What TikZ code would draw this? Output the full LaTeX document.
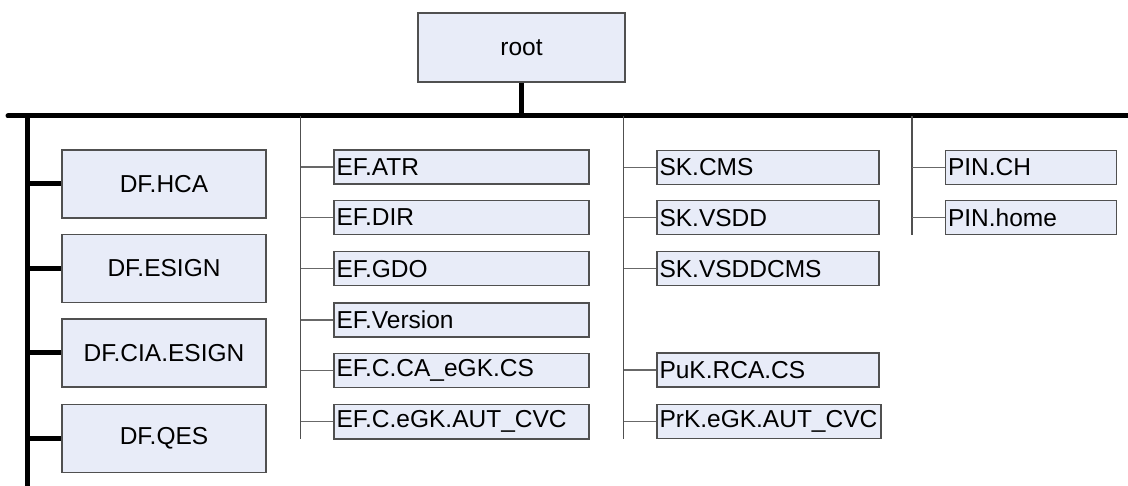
\documentclass[tikz,border=0pt]{standalone}
\usepackage{fontspec}
\setmainfont{Liberation Sans}
\definecolor{boxfill}{HTML}{E8ECF8}
\definecolor{boxline}{HTML}{505050}
\definecolor{trunkline}{HTML}{505050}
\definecolor{thinline}{HTML}{686868}
\begin{document}
\begin{tikzpicture}[x=1pt,y=-1pt,
  box/.style={draw=boxline, fill=boxfill, line width=1.4pt, inner sep=0pt,
    font=\fontsize{24.5}{28}\selectfont},
  centerbox/.style={box, align=center},
  leaf/.style={box, inner xsep=2.5pt, align=left, minimum height=34pt},
  efbox/.style={leaf, text width=250pt},
  skbox/.style={leaf, text width=217pt},
  prkbox/.style={leaf, text width=219pt},
  pinbox/.style={leaf, text width=166pt},
  bar/.style={line width=5pt, black},
  trunk/.style={line width=1.4pt, trunkline},
  twig/.style={line width=1.3pt, thinline}]
\useasboundingbox (0,0) rectangle (1128,486);

% root
\node[centerbox, minimum width=207pt, minimum height=69pt] (root) at (521.5,47.5) {root};

% bus coordinates
\coordinate (busL) at (8,116);
\coordinate (busR) at (1128,116);
\coordinate (lvTop) at (27.5,116);
\coordinate (lvBot) at (27.5,486);
\coordinate (efTop) at (300.5,116);
\coordinate (efBot) at (300.5,438.5);
\coordinate (skTop) at (623.5,116);
\coordinate (skBot) at (623.5,439);
\coordinate (pinTop) at (912,116);
\coordinate (pinBot) at (912,235);

% DF boxes
\foreach \n/\t/\y in {hca/DF.HCA/184, esign/DF.ESIGN/268.5, cia/DF.CIA.ESIGN/353, qes/DF.QES/438.5}
  \node[centerbox, minimum width=204pt, minimum height=68pt] (\n) at (164,\y) {\t};

% EF boxes
\node[efbox] (atr) at (461.5,167) {EF.ATR};
\node[efbox] (dir) at (461.5,217.5) {EF.DIR};
\node[efbox] (gdo) at (461.5,268.8) {EF.GDO};
\node[efbox] (ver) at (461.5,320) {EF.Version};
\node[efbox] (cacs) at (461.5,370.8) {EF.C.CA\_eGK.CS};
\node[efbox] (autc) at (461.5,421.8) {EF.C.eGK.AUT\_CVC};

% SK boxes
\node[skbox] (cms) at (768,167.3) {SK.CMS};
\node[skbox] (vsdd) at (768,217.7) {SK.VSDD};
\node[skbox] (vsddcms) at (768,268.7) {SK.VSDDCMS};
\node[skbox] (puk) at (768,370) {PuK.RCA.CS};
\node[prkbox] (prk) at (769,421.3) {PrK.eGK.AUT\_CVC};

% PIN boxes
\node[pinbox] (pinch) at (1031,167.3) {PIN.CH};
\node[pinbox] (pinhome) at (1031,217.7) {PIN.home};

% bus and stems
\draw[bar, line cap=round] (busL) -- (busR);
\draw[bar] (root.south) -- (root.south |- busL);
\draw[bar] (lvTop) -- (lvBot);
\foreach \n in {hca,esign,cia,qes}
  \draw[bar] (\n.west -| lvTop) -- (\n.west);

% thin trunks
\draw[trunk] (efTop) -- (efBot);
\draw[trunk] (skTop) -- (skBot);
\draw[trunk] (pinTop) -- (pinBot);
\foreach \n in {atr,dir,gdo,ver,cacs,autc}
  \draw[twig] (\n.west -| efTop) -- (\n.west);
\foreach \n in {cms,vsdd,vsddcms,puk,prk}
  \draw[twig] (\n.west -| skTop) -- (\n.west);
\foreach \n in {pinch,pinhome}
  \draw[twig] (\n.west -| pinTop) -- (\n.west);
\end{tikzpicture}
\end{document}
